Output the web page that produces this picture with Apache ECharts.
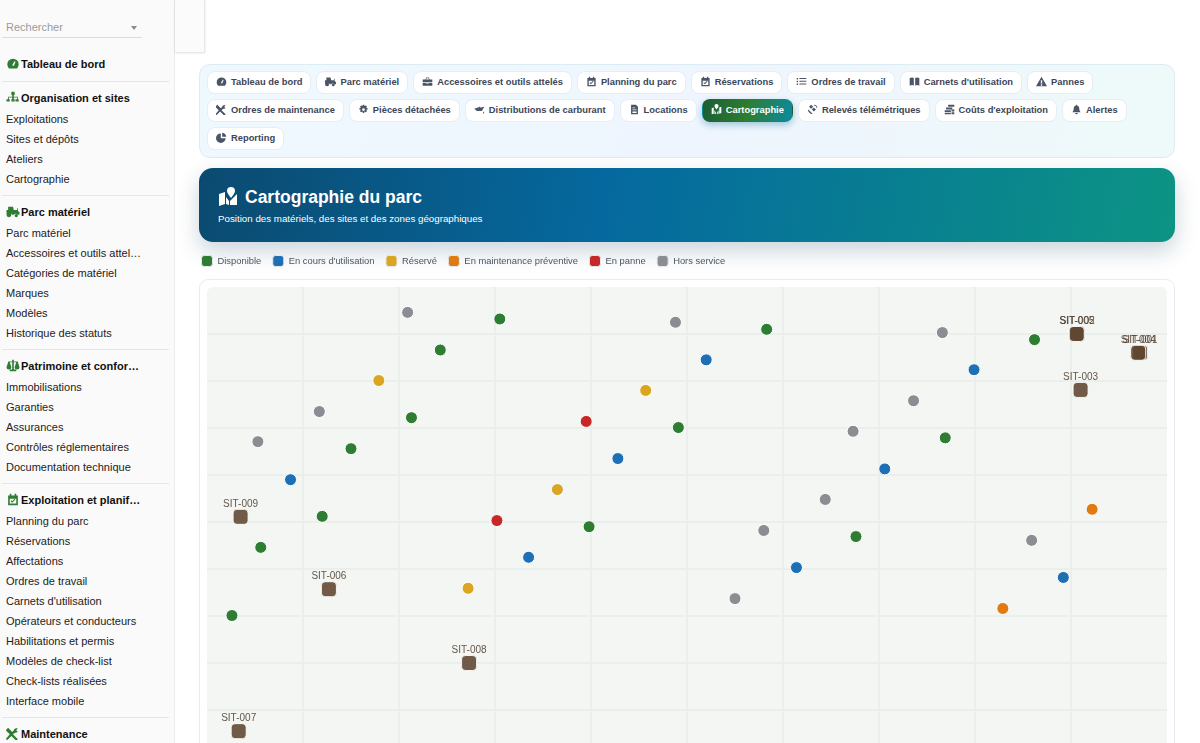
<!DOCTYPE html>
<html lang="fr">
<head>
<meta charset="UTF-8">
<title>Cartographie du parc</title>
<script src="https://cdn.jsdelivr.net/npm/echarts@6/dist/echarts.min.js"></script>
<style>
  html, body { margin: 0; width: 1200px; height: 743px; overflow: hidden; background: #fff;
    font-family: "Liberation Sans", Arial, sans-serif; }
  #side { position: absolute; left: 0; top: 0; width: 174px; height: 743px; background: #fafafa;
    border-right: 1px solid #ececec; overflow: hidden; }
  #search { position: absolute; left: 6px; top: 21px; font-size: 11px; color: #9a9a9a; }
  #searchline { position: absolute; left: 2px; top: 37px; width: 140px; height: 1px; background: #ddd; }
  #searcharrow { position: absolute; left: 131px; top: 26px; border: 3.5px solid transparent; border-top: 4px solid #8a8a8a; }
  #groups { position: absolute; left: 0; top: 47.500px; width: 169px; }
  .group { border-bottom: 1px solid #e6e6e6; margin-left: 2px; padding: 0 0 6px 4px; height: auto; }
  .group:last-child { border-bottom: 0; }
  .head { height: 21px; line-height: 21px; margin-top: 6px; font-size: 11px; font-weight: bold; color: #111; white-space: nowrap; }
  .head svg { width: 14px; height: 13px; vertical-align: -2px; fill: #2e7d32; margin-right: 1px; }
  .item { height: 20px; line-height: 20px; font-size: 11px; color: #222; white-space: nowrap; }
  #corner { position: absolute; left: 175px; top: 0; width: 29px; height: 52px; background: #fbfbfb;
    border-right: 1px solid #e8e8e8; box-shadow: 0 1px 2px rgba(0,0,0,.14); }
  #tabs { position: absolute; left: 199px; top: 64px; width: 959px; height: 79px; padding: 6px 8px 7px 7px;
    display: flex; flex-wrap: wrap; gap: 5px; align-content: flex-start;
    background: linear-gradient(100deg, #eef9fe, #eef5fe 55%, #eefafa); border: 1px solid #dcecf3; border-radius: 11px; }
  .tab { height: 21px; line-height: 20px; padding: 0 8px; background: #fff; border: 1px solid #e6eef5; border-radius: 8px;
    font-size: 9.35px; font-weight: bold; color: #3b4658; white-space: nowrap; box-sizing: content-box; }
  .tab svg { width: 11px; height: 11px; vertical-align: -2px; fill: #4a5568; margin: 0 4px 0 0; }
  .tab.on { background: linear-gradient(100deg, #1b5e34, #2e7d32 50%, #0b8aa0); color: #fff; border-color: transparent;
    box-shadow: 0 3px 7px rgba(8,110,150,.35); }
  .tab.on svg { fill: #fff; }
  #banner { position: absolute; left: 199px; top: 168px; width: 976px; height: 74px; border-radius: 14px;
    background: linear-gradient(100deg, #0b4a70, #05699f 42%, #0c9484); box-shadow: 0 9px 22px rgba(15,60,90,.22); color: #fff; }
  #banner h1 { position: absolute; left: 19px; top: 18px; margin: 0; font-size: 17.5px; line-height: 22px; font-weight: bold; white-space: nowrap; }
  #banner h1 svg { width: 20px; height: 20px; fill: #fff; vertical-align: -3px; margin-right: 7px; }
  #banner p { position: absolute; left: 19px; top: 44px; margin: 0; font-size: 9.75px; line-height: 13px; white-space: nowrap; }
  #card { position: absolute; left: 199px; top: 279px; width: 974px; height: 500px; background: #fff;
    border: 1px solid #e6ecf2; border-radius: 9px; }
  #plotbg { position: absolute; left: 207px; top: 287px; width: 960px; height: 470px; background: #f3f6f3; border-radius: 6px; }
  #chart { position: absolute; left: 199px; top: 250px; width: 976px; height: 507px; }
</style>
</head>
<body>
<div id="side">
  <div id="search">Rechercher</div><div id="searcharrow"></div><div id="searchline"></div>
  <div id="groups"></div>
</div>
<div id="corner"></div>
<div id="tabs"></div>
<div id="banner">
  <h1><svg viewBox="0 0 20 20"><path d="M13 1a4 4 0 0 1 4 4c0 2-2 4-4 7-2-3-4-5-4-7a4 4 0 0 1 4-4zM1 8l6-2v12l-6 2zM8 11l3 4v4l-3-1zM12 19v-4l2-2 5-5v11z"/></svg>Cartographie du parc</h1>
  <p>Position des matériels, des sites et des zones géographiques</p>
</div>
<div id="card"></div>
<div id="plotbg"></div>
<div id="chart"></div>

<script type="text/javascript">
"use strict"
// menu
var sideGroups = [
  ['gauge', 'Tableau de bord', []],
  ['tree', 'Organisation et sites', ['Exploitations', 'Sites et dépôts', 'Ateliers', 'Cartographie']],
  ['tractor', 'Parc matériel', ['Parc matériel', 'Accessoires et outils attel…', 'Catégories de matériel', 'Marques', 'Modèles', 'Historique des statuts']],
  ['scale', 'Patrimoine et confor…', ['Immobilisations', 'Garanties', 'Assurances', 'Contrôles réglementaires', 'Documentation technique']],
  ['cal', 'Exploitation et planif…', ['Planning du parc', 'Réservations', 'Affectations', 'Ordres de travail', "Carnets d'utilisation", 'Opérateurs et conducteurs', 'Habilitations et permis', 'Modèles de check-list', 'Check-lists réalisées', 'Interface mobile']],
  ['tools', 'Maintenance', []]
];
var tabs = [
  ['gauge', 'Tableau de bord'], ['tractor', 'Parc matériel'], ['box', 'Accessoires et outils attelés'],
  ['cal', 'Planning du parc'], ['cal', 'Réservations'], ['list', 'Ordres de travail'],
  ['book', "Carnets d'utilisation"], ['warn', 'Pannes'], ['tools', 'Ordres de maintenance'],
  ['gear', 'Pièces détachées'], ['oil', 'Distributions de carburant'], ['doc', 'Locations'],
  ['map', 'Cartographie'], ['sat', 'Relevés télémétriques'], ['coins', "Coûts d'exploitation"],
  ['bell', 'Alertes'], ['pie', 'Reporting']
];
var activeTab = 'Cartographie';

// legend and points, x and y on a 0-100 scale
var statusNames = ['Disponible', "En cours d'utilisation", 'Réservé', 'En maintenance préventive', 'En panne', 'Hors service'];
var statusColors = ['#2e7d32', '#1f6fb5', '#daa520', '#e07b12', '#c62828', '#8a8d91'];
var disponible = [[2.6,30.1],[5.6,44.6],[12.0,51.2],[15.0,65.6],[21.3,72.2],[24.3,86.6],[30.5,93.2],[39.8,49.0],[49.1,70.1],[58.3,91.0],[67.6,46.9],[76.9,67.9],[86.2,88.8]];
var enCours = [[8.7,59.0],[33.5,42.5],[42.8,63.5],[52.0,84.5],[61.4,40.3],[70.6,61.3],[79.9,82.4],[89.2,38.2]];
var reserve = [[17.9,80.1],[27.2,35.9],[36.5,56.9],[45.7,78.0]];
var maintenance = [[82.9,31.6],[92.2,52.7]];
var panne = [[30.2,50.3],[39.5,71.4]];
var horsService = [[5.3,67.1],[11.7,73.5],[20.9,94.6],[48.8,92.5],[55.0,33.7],[58.0,48.2],[64.4,54.8],[67.3,69.3],[73.6,75.8],[76.6,90.3],[85.9,46.1]];
var sites = [
  ['SIT-009',3.5,51.1],['SIT-006',12.7,35.7],['SIT-008',27.3,20.0],['SIT-007',3.3,5.5],['SIT-003',91.0,78.1],
  ['SIT-002',90.65,90.05],['SIT-005',90.6,90.0],['SIT-001',97.2,86.0],['SIT-004',97.0,86.0]
];

var icons = {
  gauge: 'M8 2a7 7 0 0 0-7 7c0 2 1 4 2 5h10c1-1 2-3 2-5a7 7 0 0 0-7-7zm-1 8l3-5 1 1-2 5z',
  tree: 'M6 1h4v4H9v2h5v3h1v3h-4v-3h2V8H9v2h1v3H6v-3h1V8H3v2h1v3H0v-3h2V7h5V5H6z',
  tractor: 'M2 2h6l1 4h4V4h1v3l2 2v3h-2a3 3 0 0 0-5 0H7a4 4 0 0 0-7-1V6h2zM3 9a3 3 0 1 1 0 6 3 3 0 0 1 0-6zm9 2a2 2 0 1 1 0 4 2 2 0 0 1 0-4z',
  scale: 'M7 1h2v2h5v1l2 6a3 3 0 0 1-6 0l2-6H9v9h3v2H4v-2h3V4H4l2 6a3 3 0 0 1-6 0l2-6V3h5z',
  cal: 'M4 1h2v2h4V1h2v2h2v12H2V3h2zM4 7v6h8V7zm3 5L5 10l1-1 1 1 3-3 1 1z',
  tools: 'M2 1l5 5 2-2 1-2 4-1-2 3 2 2-3 1-2 1-1 1 6 6-2 2-6-6-5 5-2-1 5-6-5-5z',
  box: 'M6 2h4l1 3h4v4H1V5h4zm1 1L6 5h4L9 3zM1 10h5v1h4v-1h5v4H1z',
  list: 'M1 3h2v2H1zm4 0h10v1.5H5zM1 7h2v2H1zm4 0h10v1.5H5zm-4 4h2v2H1zm4 0h10v1.5H5z',
  book: 'M1 3c2-1 5-1 6 0v11c-1-1-4-1-6 0zm8 0c1-1 4-1 6 0v11c-2-1-5-1-6 0z',
  warn: 'M8 1l8 14H0zM7 6v5h2V6zm0 6v2h2v-2z',
  gear: 'M7 1h2l.5 2 2-1 1.5 1.5-1 2 2 .5v2l-2 .5 1 2L11.500 12l-2-1-.5 2H7l-.5-2-2 1L3 10.500l1-2-2-.5V6l2-.5-1-2L4.500 2l2 1zm1 5a2 2 0 1 0 0 4 2 2 0 0 0 0-4z',
  oil: 'M1 6h2l2-1h2V4h2v1h1l5-1-3 5c0 1-1 1-2 1H4L2 8H1zm13 5c1 1 1 3 0 3s-1-2 0-3z',
  doc: 'M3 1h7l3 3v11H3zm2 4v1h4V5zm0 3v1h6V8zm0 3v2h6v-2z',
  map: 'M8 0a3 3 0 0 1 3 3c0 1.500-1.500 3-3 5-1.500-2-3-3.500-3-5a3 3 0 0 1 3-3zM1 6l3-1v9l-3 1zm4 3l2 3v3l-2-1zm4 3l2-3v5l-2 1zm3-7l3-1v9l-3 1z',
  sat: 'M3 4l3-3 3 3-3 3zm7 7l-3-3 3-3 3 3zm-7 1c-1-1-2-3-1-4l6 6c-1 1-3 0-4-1zM10 1a5 5 0 0 1 5 5h-1a4 4 0 0 0-4-4z',
  coins: 'M6 1h9v3H6zM3 5h9v3H3zM1 9h9v3H1zm0 4h9v2H1zm10-5h4v3h-4zm0 4h4v3h-4z',
  bell: 'M8 1a1 1 0 0 1 1 1c3 1 3 3 3 5s1 4 2 5H2c1-1 2-3 2-5s0-4 3-5a1 1 0 0 1 1-1zM6 13h4a2 2 0 0 1-4 0z',
  pie: 'M7 2v7h7a7 7 0 1 1-7-7zm2-1a7 7 0 0 1 6 6H9z'
};
function iconSvg(name) {
  return '<svg viewBox="0 0 16 16"><path d="' + icons[name] + '"/></svg>';
}

var groupsHtml = '';
sideGroups.forEach(function (g) {
  groupsHtml += '<div class="group"><div class="head">' + iconSvg(g[0]) + g[1] + '</div>';
  g[2].forEach(function (t) { groupsHtml += '<div class="item">' + t + '</div>'; });
  groupsHtml += '</div>';
});
document.getElementById('groups').innerHTML = groupsHtml;

var tabsHtml = '';
tabs.forEach(function (t) {
  tabsHtml += '<div class="tab' + (t[1] === activeTab ? ' on' : '') + '">' + iconSvg(t[0]) + t[1] + '</div>';
});
document.getElementById('tabs').innerHTML = tabsHtml;

var myChart = echarts.init(document.getElementById('chart'));
var statusData = [disponible, enCours, reserve, maintenance, panne, horsService];
var series = statusNames.map(function (name, i) {
  return {
    name: name,
    type: 'scatter',
    data: statusData[i],
    symbolSize: 12,
    itemStyle: { color: statusColors[i], opacity: 1, borderColor: '#fff', borderWidth: 1 }
  };
});
series.push({
  name: 'Sites',
  type: 'scatter',
  z: 5,
  symbol: 'roundRect',
  symbolSize: 15,
  data: sites.map(function (s) { return { name: s[0], value: [s[1], s[2]] }; }),
  itemStyle: { color: '#5f4630', opacity: 0.88, borderColor: '#fff', borderWidth: 1 },
  label: { show: true, position: 'top', distance: 0, formatter: '{b}', fontSize: 10, color: '#4f3f2f', fontFamily: 'Liberation Sans' }
});

var option = {
  animation: false,
  legend: {
    data: statusNames.map(function (name, i) {
      return { name: name, itemStyle: { color: statusColors[i], opacity: 1, borderColor: '#e3e8ef', borderWidth: 1 } };
    }),
    left: 2, top: 5, padding: 0,
    icon: 'roundRect', itemWidth: 11, itemHeight: 11, itemGap: 11,
    selectedMode: false,
    textStyle: { fontSize: 9.4, color: '#4b5563', fontFamily: 'Liberation Sans' }
  },
  grid: { left: 8, top: 37, width: 960, height: 470 },
  xAxis: {
    type: 'value', min: 0, max: 100, interval: 10,
    axisLine: { show: false }, axisTick: { show: false }, axisLabel: { show: false },
    splitLine: { show: true, showMinLine: false, showMaxLine: false, lineStyle: { color: '#e9ece8', width: 1.5 } }
  },
  yAxis: {
    type: 'value', min: 0, max: 100, interval: 10,
    axisLine: { show: false }, axisTick: { show: false }, axisLabel: { show: false },
    splitLine: { show: true, showMinLine: false, showMaxLine: false, lineStyle: { color: '#e9ece8', width: 1.5 } }
  },
  series: series
};
myChart.setOption(option);
</script>
</body>
</html>
